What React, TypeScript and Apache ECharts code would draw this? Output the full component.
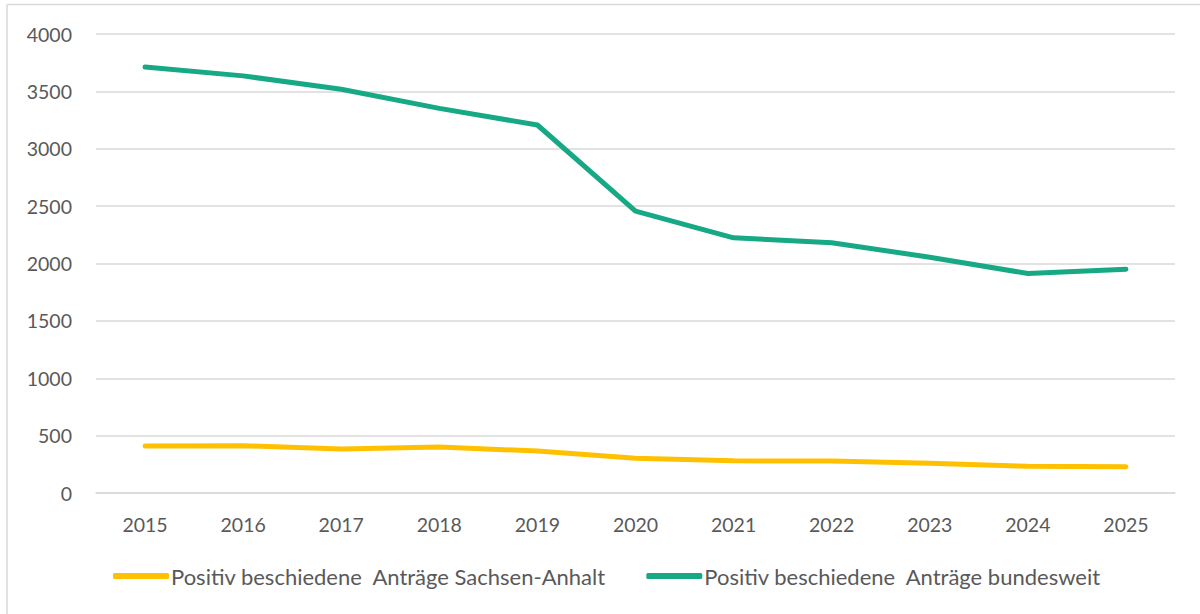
import React, { useEffect, useRef } from "react";
import * as echarts from "echarts";

const years = ["2015", "2016", "2017", "2018", "2019", "2020", "2021", "2022", "2023", "2024", "2025"];
const sachsenAnhalt = [410, 412, 383, 400, 366, 303, 280, 278, 260, 233, 228];
const bundesweit = [3712, 3635, 3518, 3352, 3207, 2457, 2224, 2181, 2055, 1913, 1950];
const seriesNames = [
  "Positiv beschiedene  Anträge Sachsen-Anhalt",
  "Positiv beschiedene  Anträge bundesweit",
];

const FONT = "Lato, 'Open Sans', sans-serif";
const TEXT = "#595959";

export default function App() {
  const ref = useRef<HTMLDivElement>(null);
  useEffect(() => {
    if (!ref.current) return;
    const chart = echarts.init(ref.current, undefined, { renderer: "svg" });
    chart.setOption({
      animation: false,
      backgroundColor: "#ffffff",
      textStyle: { fontFamily: FONT },
      graphic: [
        {
          type: "line",
          shape: { x1: 7, y1: 4.5, x2: 1200, y2: 4.5 },
          style: { stroke: "#d9d9d9", lineWidth: 1.5 },
          silent: true,
        },
        {
          type: "line",
          shape: { x1: 7, y1: 4.5, x2: 7, y2: 614 },
          style: { stroke: "#d9d9d9", lineWidth: 1.5 },
          silent: true,
        },
      ],
      grid: { left: 96, right: 25, top: 34, bottom: 121, containLabel: false },
      legend: {
        bottom: 22,
        left: 108,
        itemWidth: 56,
        itemHeight: 6,
        itemGap: 40,
        icon: "roundRect",
        textStyle: { color: TEXT, fontSize: 22, fontFamily: FONT, padding: [0, 0, 0, -3] },
        data: seriesNames,
      },
      xAxis: {
        type: "category",
        data: years,
        boundaryGap: true,
        axisLine: { show: true, lineStyle: { color: "#d9d9d9", width: 1.5 } },
        axisTick: { show: false },
        axisLabel: { color: TEXT, fontSize: 19.5, margin: 21, fontFamily: FONT },
      },
      yAxis: {
        type: "value",
        min: 0,
        max: 4000,
        interval: 500,
        axisLine: { show: false },
        axisTick: { show: false },
        axisLabel: {
          color: TEXT,
          fontSize: 19.5,
          margin: 24,
          fontFamily: FONT,
          formatter: (v: number) => String(v),
        },
        splitLine: { lineStyle: { color: "#d9d9d9", width: 1.5 } },
      },
      series: [
        {
          name: seriesNames[0],
          type: "line",
          data: sachsenAnhalt,
          symbol: "none",
          lineStyle: { color: "#ffc000", width: 5, cap: "round", join: "round" },
          itemStyle: { color: "#ffc000" },
        },
        {
          name: seriesNames[1],
          type: "line",
          data: bundesweit,
          symbol: "none",
          lineStyle: { color: "#17a985", width: 5, cap: "round", join: "round" },
          itemStyle: { color: "#17a985" },
        },
      ],
    });
    return () => chart.dispose();
  }, []);
  return (
    <div
      ref={ref}
      style={{ position: "fixed", left: 0, top: 0, width: 1200, height: 614, background: "#fff" }}
    />
  );
}
